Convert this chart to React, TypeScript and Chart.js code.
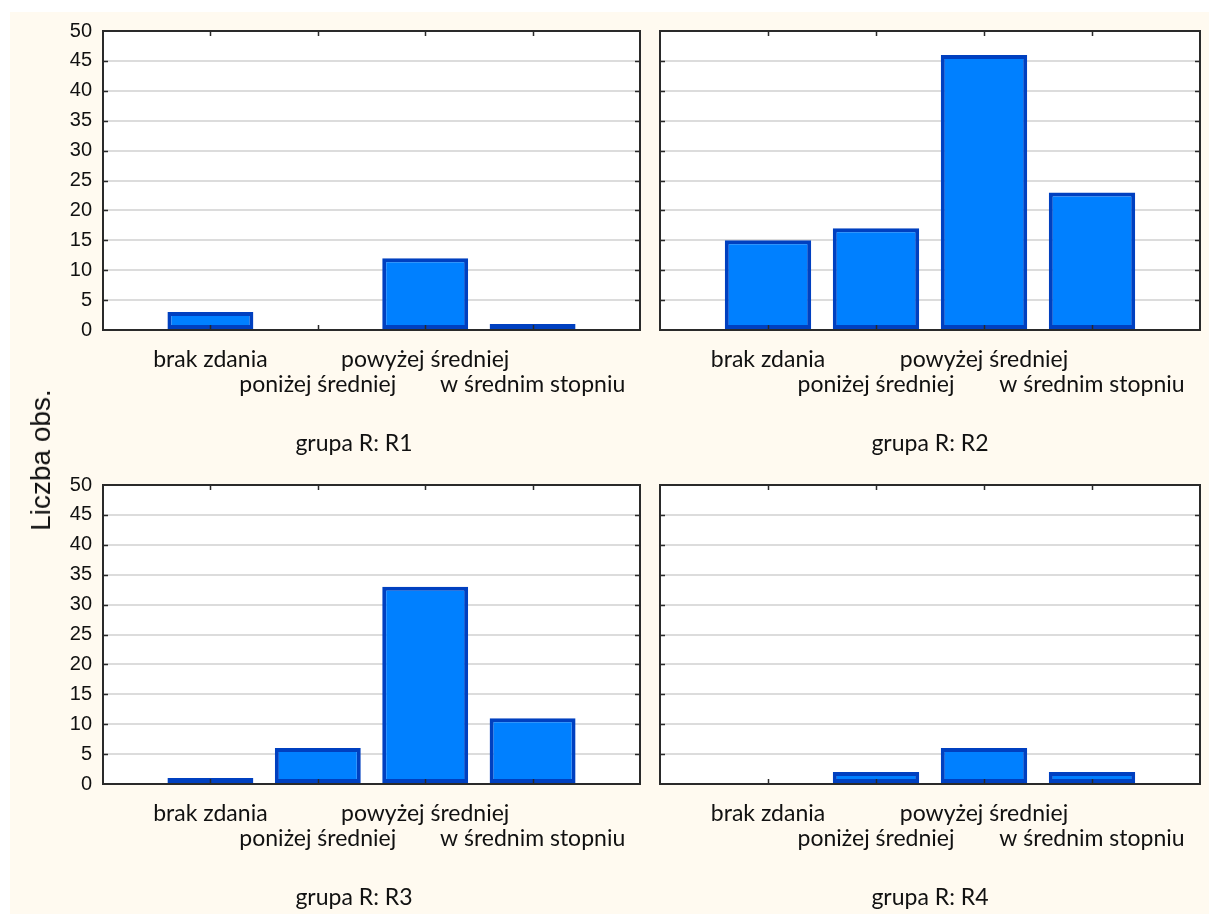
import React, { useEffect, useRef } from 'react';
import { Chart, registerables } from 'chart.js';

Chart.register(...registerables);

// ---- data ----
const categories = ['brak zdania', 'poniżej średniej', 'powyżej średniej', 'w średnim stopniu'];
const r1Values = [3, 0, 12, 1];
const r2Values = [15, 17, 46, 23];
const r3Values = [1, 6, 33, 11];
const r4Values = [0, 2, 6, 2];
const panelTitles = ['grupa R: R1', 'grupa R: R2', 'grupa R: R3', 'grupa R: R4'];
const yMin = 0;
const yMax = 50;
const yStep = 5;
const yAxisTitle = 'Liczba obs.';

const BG = '#FFFAF0';
const BAR_FILL = '#0080FF';
const BAR_BORDER = '#0040C0';

// staggered labels: padded with empty slots at both ends of the axis
const axisLabels: (string | string[])[] = [
  '',
  ...categories.map((c, i) => (i % 2 === 0 ? [c, ''] : ['', c])),
  '',
];

const framePlugin = {
  id: 'frame',
  beforeDraw(chart: any) {
    const { ctx, chartArea: a } = chart;
    ctx.save();
    ctx.fillStyle = '#ffffff';
    ctx.fillRect(a.left, a.top, a.right - a.left, a.bottom - a.top);
    ctx.restore();
  },
  afterDatasetsDraw(chart: any) {
    const { ctx, chartArea: a, scales } = chart;
    ctx.save();
    ctx.strokeStyle = '#2a2a2a';
    ctx.lineWidth = 1.5;
    // inward ticks on x (category centres)
    for (let i = 1; i <= categories.length; i++) {
      const x = Math.round(scales.x.getPixelForValue(i)) + 0.5;
      ctx.beginPath();
      ctx.moveTo(x, a.bottom);
      ctx.lineTo(x, a.bottom - 5);
      ctx.moveTo(x, a.top);
      ctx.lineTo(x, a.top + 5);
      ctx.stroke();
    }
    // inward ticks on y
    for (let v = yMin + yStep; v < yMax; v += yStep) {
      const y = Math.round(scales.y.getPixelForValue(v)) + 0.5;
      ctx.beginPath();
      ctx.moveTo(a.left, y);
      ctx.lineTo(a.left + 5, y);
      ctx.moveTo(a.right, y);
      ctx.lineTo(a.right - 5, y);
      ctx.stroke();
    }
    ctx.lineWidth = 2;
    ctx.strokeRect(a.left, a.top, a.right - a.left, a.bottom - a.top);
    ctx.restore();
  },
};

type PanelProps = {
  values: number[];
  showY: boolean;
  left: number;
  top: number;
  width: number;
  height: number;
  yWidth: number;
  padRight: number;
};

const PLOT_H = 299;
const PAD_TOP = 19;

function Panel({ values, showY, left, top, width, height, yWidth, padRight }: PanelProps) {
  const ref = useRef<HTMLCanvasElement | null>(null);
  useEffect(() => {
    if (!ref.current) return;
    const chart = new Chart(ref.current, {
      type: 'bar',
      data: {
        labels: axisLabels as any,
        datasets: [
          {
            data: [null, ...values, null] as any,
            backgroundColor: BAR_FILL,
            borderColor: BAR_BORDER,
            borderWidth: 4,
            borderSkipped: false,
            categoryPercentage: 1,
            barPercentage: 0.8,
          },
        ],
      },
      options: {
        animation: false,
        responsive: false,
        maintainAspectRatio: false,
        layout: { padding: { top: PAD_TOP, right: padRight, left: 0, bottom: 0 } },
        plugins: { legend: { display: false }, tooltip: { enabled: false } },
        scales: {
          x: {
            type: 'category',
            offset: false,
            grid: { display: false, drawTicks: false },
            border: { display: false },
            ticks: {
              autoSkip: false,
              maxRotation: 0,
              minRotation: 0,
              padding: 17,
              color: '#111',
              font: { family: 'Lato', size: 23, lineHeight: '25px' },
            },
            afterFit: (s: any) => {
              s.height = height - PAD_TOP - PLOT_H;
              s.paddingLeft = 0;
              s.paddingRight = 0;
            },
          },
          y: {
            min: yMin,
            max: yMax,
            ticks: {
              stepSize: yStep,
              display: showY,
              padding: 11,
              color: '#111',
              font: { family: '"Liberation Sans", Arial', size: 20 },
            },
            grid: { color: '#dcdcdc', lineWidth: 2, drawTicks: false },
            border: { display: false },
            afterFit: (s: any) => {
              s.width = yWidth;
              s.paddingTop = 0;
              s.paddingBottom = 0;
            },
          },
        },
      } as any,
      plugins: [framePlugin],
    });
    return () => chart.destroy();
  }, []);
  return (
    <canvas
      ref={ref}
      width={width}
      height={height}
      style={{ position: 'absolute', left, top, width, height }}
    />
  );
}

const titleStyle = (cx: number, cy: number): React.CSSProperties => ({
  position: 'absolute',
  left: cx - 150,
  top: cy - 14,
  width: 300,
  textAlign: 'center',
  fontFamily: 'Lato',
  fontSize: 23,
  lineHeight: '28px',
  color: '#111',
});

export default function App() {
  return (
    <div style={{ position: 'absolute', left: 0, top: 0, width: 1209, height: 914, background: '#fff', overflow: 'hidden' }}>
      <div style={{ position: 'absolute', left: 10, top: 12, width: 1199, height: 902, background: BG }} />
      <Panel values={r1Values} showY={true} left={10} top={12} width={640} height={440} yWidth={93} padRight={10} />
      <Panel values={r2Values} showY={false} left={650} top={12} width={559} height={440} yWidth={10} padRight={9} />
      <Panel values={r3Values} showY={true} left={10} top={466} width={640} height={440} yWidth={93} padRight={10} />
      <Panel values={r4Values} showY={false} left={650} top={466} width={559} height={440} yWidth={10} padRight={9} />
      <div style={titleStyle(354, 442)}>{panelTitles[0]}</div>
      <div style={titleStyle(930, 442)}>{panelTitles[1]}</div>
      <div style={titleStyle(354, 896)}>{panelTitles[2]}</div>
      <div style={titleStyle(930, 896)}>{panelTitles[3]}</div>
      <div
        style={{
          position: 'absolute',
          left: 41,
          top: 460,
          transform: 'translate(-50%, -50%) rotate(-90deg)',
          whiteSpace: 'nowrap',
          fontFamily: '"Liberation Sans", Arial',
          fontSize: 28,
          color: '#111',
        }}
      >
        {yAxisTitle}
      </div>
    </div>
  );
}
